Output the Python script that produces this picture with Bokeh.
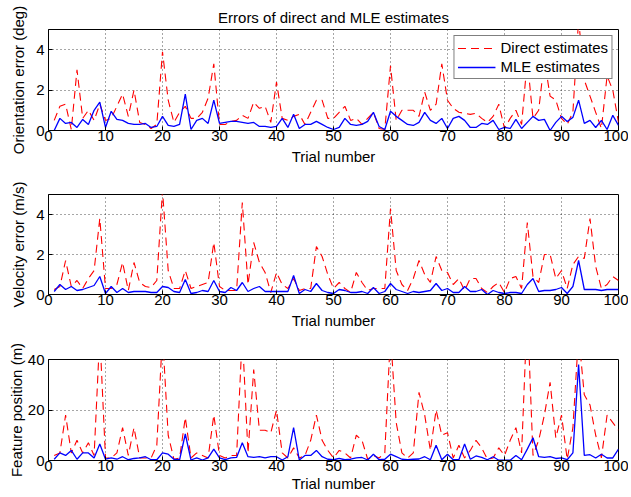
from bokeh.plotting import figure
from bokeh.models import Range1d, Legend, LegendItem, FixedTicker
from bokeh.layouts import column
from bokeh.embed import file_html
from bokeh.resources import INLINE

trials = list(range(1, 101))
x_ticks = [0, 10, 20, 30, 40, 50, 60, 70, 80, 90, 100]

orient_direct = [0.5, 1.2, 1.3, 0.05, 3.0, 0.6, 1.0, 0.5, 1.3, 0.5,
                 0.6, 1.2, 1.8, 0.7, 2.0, 0.4, 0.3, 0.1, 0.3, 3.9,
                 1.5, 0.4, 0.9, 1.2, 0.6, 0.6, 0.9, 1.6, 3.3, 0.3,
                 0.3, 0.45, 0.5, 0.75, 0.6, 1.4, 1.1, 1.2, 0.4, 2.4,
                 0.6, 0.5, 0.7, 0.8, 0.3, 0.9, 1.5, 1.5, 0.6, 0.6,
                 0.9, 1.2, 0.5, 0.6, 0.3, 0.6, 0.9, 0.1, 0.05, 3.2,
                 0.5, 1.0, 1.0, 1.0, 0.7, 1.9, 1.0, 1.3, 3.3, 1.5,
                 1.1, 0.9, 0.85, 0.8, 0.85, 0.6, 0.4, 0.7, 1.3, 0.1,
                 0.6, 1.0, 0.3, 3.5, 0.6, 1.0, 3.5, 1.7, 1.5, 0.6,
                 0.3, 0.9, 5.5, 2.5, 1.7, 0.9, 0.1, 2.7, 2.0, 0.4]
orient_mle = [0.0, 0.6, 0.35, 0.4, 0.15, 0.55, 0.3, 1.0, 1.4, 0.15,
              0.95, 0.55, 0.5, 0.35, 0.3, 0.3, 0.35, 0.15, 0.2, 0.7,
              0.25, 0.2, 0.3, 1.8, 0.05, 0.5, 0.6, 0.35, 1.5, 0.35,
              0.4, 0.45, 0.45, 0.4, 0.35, 0.4, 0.2, 0.2, 0.15, 0.2,
              0.6, 0.15, 0.8, 0.1, 0.3, 0.3, 0.45, 0.3, 0.15, 0.05,
              0.15, 0.6, 0.3, 0.25, 0.3, 0.45, 0.9, 0.2, 0.05, 0.95,
              0.7, 0.5, 0.3, 0.25, 0.4, 0.9, 0.5, 0.35, 0.6, 0.1,
              0.6, 0.7, 0.5, 0.15, 0.15, 0.35, 0.3, 0.5, 0.05, 0.15,
              0.1, 0.55, 0.1, 0.4, 0.7, 0.5, 0.55, 0.0, 0.4, 0.7,
              0.45, 0.65, 1.5, 0.35, 0.5, 0.15, 0.5, 0.05, 0.75, 0.25]

vel_direct = [0.25, 0.4, 1.7, 0.4, 0.7, 0.3, 0.8, 1.2, 3.8, 0.3,
              0.3, 0.5, 1.6, 0.2, 1.6, 0.6, 0.4, 0.35, 0.7, 5.2,
              1.2, 0.3, 0.3, 1.2, 0.3, 0.4, 0.5, 0.6, 2.6, 0.4,
              0.2, 0.2, 0.2, 4.6, 0.5, 2.6, 1.6, 1.1, 0.1, 1.1,
              0.5, 0.3, 0.8, 0.2, 0.3, 0.3, 2.4, 1.9, 1.0, 0.3,
              0.6, 0.3, 0.1, 1.1, 0.6, 0.2, 0.3, 0.3, 0.3, 4.3,
              1.2, 0.5, 0.2, 0.8, 1.7, 1.0, 0.6, 1.9, 1.2, 1.1,
              0.5, 0.8, 0.2, 0.8, 0.8, 0.3, 0.1, 0.4, 0.6, 0.1,
              0.8, 0.9, 0.3, 3.6, 0.9, 0.6, 2.0, 2.0, 0.8, 1.2,
              0.3, 1.5, 1.9, 1.8, 3.8, 1.4, 0.3, 0.5, 0.9, 0.7]
vel_mle = [0.15, 0.5, 0.25, 0.4, 0.2, 0.25, 0.35, 0.45, 0.9, 0.05,
           0.4, 0.1, 0.3, 0.1, 0.15, 0.15, 0.15, 0.1, 0.1, 0.4,
           0.35, 0.15, 0.1, 0.75, 0.05, 0.1, 0.2, 0.15, 0.7, 0.15,
           0.1, 0.35, 0.2, 0.6, 0.15, 0.3, 0.4, 0.15, 0.15, 0.15,
           0.15, 0.15, 0.95, 0.05, 0.25, 0.15, 0.55, 0.2, 0.1, 0.05,
           0.25, 0.2, 0.1, 0.1, 0.15, 0.05, 0.35, 0.05, 0.15, 0.55,
           0.25, 0.15, 0.05, 0.15, 0.1, 0.15, 0.2, 0.55, 0.2, 0.3,
           0.1, 0.1, 0.4, 0.15, 0.15, 0.25, 0.0, 0.2, 0.1, 0.05,
           0.1, 0.1, 0.05, 0.5, 0.8, 0.15, 0.2, 0.2, 0.25, 0.35,
           0.05, 0.4, 1.7, 0.25, 0.25, 0.25, 0.2, 0.25, 0.25, 0.25]

feat_direct = [2, 3, 18, 3, 8, 3, 7, 2, 50, 1,
               1, 3, 13, 2, 13, 1, 1, 1, 6, 50,
               10, 0.5, 1, 17, 1, 3, 2, 1, 18, 2,
               1, 2, 2, 50, 3, 36, 12, 12, 11, 20,
               3, 1, 5, 1, 2, 8, 18, 8, 4, 1,
               4, 3, 1, 10, 8, 0.5, 2, 1, 3, 50,
               15, 3, 1, 3, 27, 18, 4, 20, 10, 11,
               1, 6, 1, 4, 8, 5, 0.5, 1, 5, 2,
               8, 13, 3, 60, 2, 8, 18, 31, 9, 18,
               0.5, 13, 50, 26, 22, 10, 1, 18, 15, 12]
feat_mle = [0.5, 3, 2, 4, 0.5, 3, 3, 1, 6.5, 0.5,
            1, 0.5, 1.5, 0.3, 0.8, 1, 1.5, 0.3, 0.3, 3,
            2.5, 0.5, 0.3, 10.5, 0.2, 1, 0.2, 1, 4.5, 1,
            0.3, 1, 1.2, 7, 1.5, 1.2, 1.5, 1, 1.5, 1.5,
            0.2, 1.5, 13, 0.2, 2, 2, 4, 1.5, 0.5, 0.3,
            0.8, 0.3, 0.5, 1, 1.2, 0.2, 2.5, 0.3, 0.5, 2.5,
            1.5, 0.5, 0.3, 0.5, 0.6, 1.5, 0.3, 6, 0.3, 2.5,
            0.3, 0.3, 6.5, 0.5, 1.8, 1.2, 0.3, 1.5, 0.1, 0.1,
            0.1, 2, 0.3, 4.5, 9, 1.5, 1.2, 1.5, 0.8, 1,
            0.3, 3, 38, 2, 2.3, 1, 2.5, 1, 1, 4.5]

FONT = "Liberation Sans"


def make_fig(direct, mle, ylabel, ymax, yticks, height, top, bottom,
             title=None, ylabel_standoff=6, xlabel_standoff=4, legend=False):
    p = figure(width=628, height=height, x_range=Range1d(0, 100), y_range=Range1d(0, ymax),
               output_backend="svg", toolbar_location=None,
               min_border_left=48, min_border_right=10,
               min_border_top=top, min_border_bottom=bottom)
    p.background_fill_color = "white"
    p.border_fill_color = "white"
    p.outline_line_color = "black"
    p.outline_line_width = 1
    r1 = p.line(trials, direct, line_color="#ff0000", line_width=1.1, line_dash="8 5")
    r2 = p.line(trials, mle, line_color="#0000ff", line_width=1.3)

    p.xaxis.ticker = FixedTicker(ticks=x_ticks)
    p.yaxis.ticker = FixedTicker(ticks=yticks)
    for ax in (p.xaxis[0], p.yaxis[0]):
        ax.major_tick_in = 4
        ax.major_tick_out = 0
        ax.minor_tick_in = 0
        ax.minor_tick_out = 0
        ax.axis_line_color = "black"
        ax.major_label_text_font = FONT
        ax.major_label_text_font_size = "15px"
        ax.major_label_text_color = "black"
        ax.axis_label_text_font = FONT
        ax.axis_label_text_font_size = "15px"
        ax.axis_label_text_font_style = "normal"
        ax.axis_label_text_color = "black"
    p.xaxis.axis_label = "Trial number"
    p.xaxis.major_label_standoff = 0
    p.xaxis.axis_label_standoff = xlabel_standoff
    p.yaxis.axis_label = ylabel
    p.yaxis.major_label_standoff = 4
    p.yaxis.axis_label_standoff = ylabel_standoff

    for g in (p.xgrid[0], p.ygrid[0]):
        g.grid_line_color = "black"
        g.grid_line_alpha = 0.7
        g.grid_line_dash = "1 3"
        g.grid_line_width = 1

    if title:
        p.title.text = title
        p.title.align = "center"
        p.title.text_font = FONT
        p.title.text_font_size = "15px"
        p.title.text_font_style = "normal"
        p.title.text_color = "black"
        p.title.standoff = 8

    if legend:
        leg = Legend(items=[LegendItem(label="Direct estimates", renderers=[r1]),
                            LegendItem(label="MLE estimates", renderers=[r2])],
                     location="top_right")
        leg.label_text_font = FONT
        leg.label_text_font_size = "15px"
        leg.label_text_color = "black"
        leg.glyph_width = 38
        leg.glyph_height = 16
        leg.label_height = 16
        leg.spacing = 2
        leg.padding = 3
        leg.margin = 6
        leg.border_line_color = "black"
        leg.border_line_width = 1
        leg.background_fill_color = "white"
        leg.background_fill_alpha = 1
        p.add_layout(leg)
    return p


p1 = make_fig(orient_direct, orient_mle, "Orientation error (deg)", 5, [0, 2, 4],
              height=170, top=29, bottom=40,
              title="Errors of direct and MLE estimates", ylabel_standoff=6, legend=True)
p2 = make_fig(vel_direct, vel_mle, "Velocity error (m/s)", 5, [0, 2, 4],
              height=165, top=24, bottom=41, ylabel_standoff=6)
p3 = make_fig(feat_direct, feat_mle, "Feature position (m)", 40, [0, 20, 40],
              height=161, top=24, bottom=36, ylabel_standoff=0, xlabel_standoff=1)

layout = column(p1, p2, p3, spacing=0)

open("out.html", "w").write(file_html(layout, INLINE))
